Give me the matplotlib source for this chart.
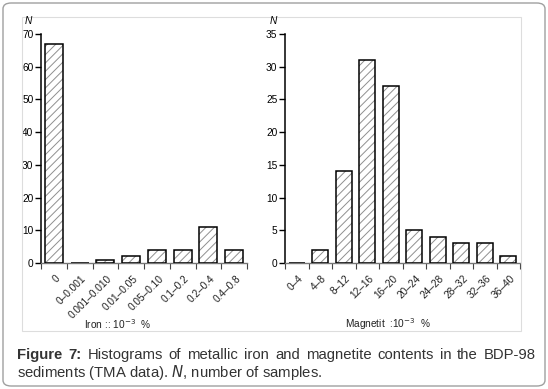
import matplotlib
matplotlib.use("Agg")
import matplotlib.pyplot as plt
from matplotlib.patches import FancyBboxPatch, Rectangle
import numpy as np

plt.rcParams['font.family'] = ['Liberation Sans', 'DejaVu Sans']
plt.rcParams['hatch.linewidth'] = 0.7
plt.rcParams['hatch.color'] = '#8a8a8a'

iron_cats = ["0", "0\u20130.001", "0.001\u20130.010", "0.01\u20130.05", "0.05\u20130.10",
             "0.1\u20130.2", "0.2\u20130.4", "0.4\u20130.8"]
iron_vals = [67, 0, 1, 2, 4, 4, 11, 4]
iron_yticks = [0, 10, 20, 30, 40, 50, 60, 70]

mag_cats = ["0\u20134", "4\u20138", "8\u201312", "12\u201316", "16\u201320", "20\u201324",
            "24\u201328", "28\u201332", "32\u201336", "36\u201340"]
mag_vals = [0, 2, 14, 31, 27, 5, 4, 3, 3, 1]
mag_yticks = [0, 5, 10, 15, 20, 25, 30, 35]

W, H = 548, 389
fig = plt.figure(figsize=(W / 100, H / 100), dpi=100)

def fx(px):
    return px / W

def fy(py):
    return 1 - py / H

outer = FancyBboxPatch((fx(3), fy(386)), fx(542), (383) / H,
                       boxstyle="round,pad=0,rounding_size=0.015",
                       transform=fig.transFigure, fill=False,
                       edgecolor='#a0a0a0', linewidth=1.0)
fig.patches.append(outer)
inner = Rectangle((fx(22), fy(331)), fx(499), (331 - 17) / H,
                  transform=fig.transFigure, fill=False,
                  edgecolor='#dddddd', linewidth=0.8)
fig.patches.append(inner)

def panel(ax, cats, vals, yticks, ymax, xlabel, xlabel_x):
    n = len(cats)
    x = np.arange(n)
    ax.bar(x, vals, width=0.7, color='white', hatch='////', edgecolor='#8f8f8f',
           linewidth=0, zorder=2)
    ax.bar(x, vals, width=0.7, fill=False, edgecolor='black', linewidth=1.1, zorder=3)
    ax.set_xlim(-0.5, n - 0.5)
    ax.set_ylim(0, ymax)
    for s in ['top', 'right']:
        ax.spines[s].set_visible(False)
    ax.spines['left'].set_color('black')
    ax.spines['left'].set_linewidth(1.1)
    ax.spines['bottom'].set_color('#777777')
    ax.spines['bottom'].set_linewidth(1.0)
    ax.set_yticks(yticks)
    ax.tick_params(axis='y', direction='out', length=4, width=1.0, labelsize=7.3,
                   colors='black', pad=1.5)
    ax.set_xticks(np.arange(n + 1) - 0.5)
    ax.set_xticklabels([])
    ax.tick_params(axis='x', direction='out', length=4, width=0.8, color='#444444')
    for i, c in enumerate(cats):
        ax.annotate(c, xy=(i, 0), xycoords=('data', 'axes fraction'),
                    xytext=(3.5, -10), textcoords='offset points',
                    rotation=45, rotation_mode='anchor', ha='right', va='center',
                    fontsize=7.3, color='#222222')
    ax.patch.set_alpha(0)
    fig.text(xlabel_x, fy(324), xlabel, ha='center', va='center', fontsize=7.3,
             color='#222222')

ax1 = fig.add_axes([fx(41), fy(263), fx(206), 229 / H])
panel(ax1, iron_cats, iron_vals, iron_yticks, 70, "Iron :: 10$^{-3}$  %", fx(118))
fig.text(fx(25), fy(21), "N", style='italic', fontsize=7.3, ha='left', va='center')

ax2 = fig.add_axes([fx(285), fy(263), fx(235), 229 / H])
panel(ax2, mag_cats, mag_vals, mag_yticks, 35, "Magnetit  :10$^{-3}$  %", fx(388))
fig.text(fx(270), fy(21), "N", style='italic', fontsize=7.3, ha='left', va='center')

# caption (line 1 justified between x=17 and x=536)
cap_color = '#333333'
cap_fs = 10.7
fig.canvas.draw()
r = fig.canvas.get_renderer()
words1 = [("Figure", 'bold'), ("7:", 'bold'), ("Histograms", 'normal'), ("of", 'normal'),
          ("metallic", 'normal'), ("iron", 'normal'), ("and", 'normal'),
          ("magnetite", 'normal'), ("contents", 'normal'), ("in", 'normal'),
          ("the", 'normal'), ("BDP-98", 'normal')]
texts = []
widths = []
for w, fw in words1:
    t = fig.text(0, fy(355), w, fontweight=fw, fontsize=cap_fs, color=cap_color,
                 ha='left', va='center')
    bb = t.get_window_extent(renderer=r)
    texts.append(t)
    widths.append(bb.width)
x0, x1 = 17, 536
gap = (x1 - x0 - sum(widths)) / (len(widths) - 1)
xc = x0
for t, wd in zip(texts, widths):
    t.set_x(fx(xc))
    xc += wd + gap
fig.text(fx(17), fy(372), "sediments (TMA data). $\\it{N}$, number of samples.",
         fontsize=cap_fs, color=cap_color, ha='left', va='center')

fig.savefig("out.png", dpi=100)
